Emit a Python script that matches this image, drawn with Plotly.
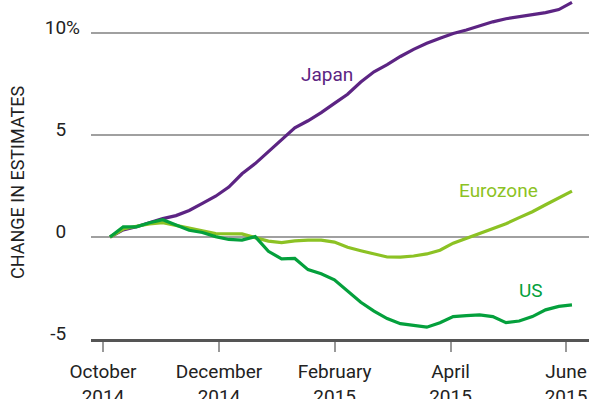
import plotly.graph_objects as go

# Weekly observations, Oct 2014 - Jun 2015 (week index)
weeks = list(range(36))

japan = [0, 0.35, 0.5, 0.7, 0.9, 1.05, 1.3, 1.65, 2.0, 2.45,
         3.1, 3.6, 4.2, 4.8, 5.35, 5.7, 6.1, 6.55, 7.0, 7.6,
         8.1, 8.45, 8.85, 9.2, 9.5, 9.75, 9.98, 10.15, 10.35, 10.55,
         10.7, 10.8, 10.9, 11.0, 11.15, 11.5]

eurozone = [0, 0.39, 0.53, 0.64, 0.7, 0.56, 0.4, 0.3, 0.17, 0.15,
            0.15, -0.03, -0.2, -0.27, -0.19, -0.15, -0.15, -0.25, -0.5, -0.67,
            -0.84, -0.98, -0.99, -0.93, -0.83, -0.65, -0.3, -0.07, 0.15, 0.4,
            0.65, 0.95, 1.24, 1.58, 1.9, 2.25]

us = [0, 0.5, 0.5, 0.7, 0.85, 0.58, 0.33, 0.22, 0.02, -0.12,
      -0.15, 0.02, -0.7, -1.07, -1.05, -1.6, -1.8, -2.1, -2.65, -3.2,
      -3.63, -4.0, -4.25, -4.32, -4.42, -4.2, -3.9, -3.85, -3.82, -3.9,
      -4.2, -4.12, -3.9, -3.57, -3.4, -3.33]

x_tick_pos = [-0.53, 8.26, 17.02, 25.8, 34.55]
x_tick_text = ["October<br>2014", "December<br>2014", "February<br>2015",
               "April<br>2015", "June<br>2015"]
y_tick_vals = [-5, 0, 5, 10]
y_tick_text = ["-5", "0", "5", "10%"]
y_title = "CHANGE IN ESTIMATES"

C_JAPAN = "#5c2483"
C_EURO = "#8cc224"
C_US = "#04a03c"
FONT = "Roboto"

hid = "<span style='color:rgba(0,0,0,0)'>%</span>"
y_ticks_disp = [t if t.endswith("%") else t + hid for t in y_tick_text]

fig = go.Figure()
for name, vals, col in [("Japan", japan, C_JAPAN), ("Eurozone", eurozone, C_EURO), ("US", us, C_US)]:
    fig.add_trace(go.Scatter(x=weeks, y=vals, mode="lines", name=name,
                             line=dict(color=col, width=3.2), hoverinfo="skip"))

labels = [("Japan", 16.44, 7.95, C_JAPAN), ("Eurozone", 29.47, 2.3, C_EURO), ("US", 31.9, -2.6, C_US)]
for txt, xx, yy, col in labels:
    fig.add_annotation(x=xx, y=yy, text=txt, showarrow=False,
                       font=dict(family=FONT, size=19, color=col))

# y-axis title
fig.add_annotation(xref="paper", yref="paper", x=-73 / 498, y=1 - 183 / 339,
                   text=y_title, textangle=-90, showarrow=False,
                   xanchor="center", yanchor="middle",
                   font=dict(family=FONT, size=18, color="#222222"))

fig.update_layout(
    width=589, height=399,
    margin=dict(l=91, r=0, t=0, b=60, autoexpand=False),
    plot_bgcolor="white", paper_bgcolor="white",
    showlegend=False,
    font=dict(family=FONT, size=19, color="#222222"),
    xaxis=dict(range=[-1.44, 36.29], tickmode="array", tickvals=x_tick_pos,
               ticktext=x_tick_text, showgrid=False, zeroline=False,
               showline=True, linecolor="#555555", linewidth=3,
               ticks="outside", ticklen=10, tickwidth=1.5, tickcolor="#999999",
               ticklabelstandoff=3, automargin=False,
               tickfont=dict(family=FONT, size=19, color="#222222")),
    yaxis=dict(range=[-5, 11.62], tickmode="array", tickvals=y_tick_vals,
               ticktext=y_ticks_disp, showgrid=True, gridcolor="#a0a0a0",
               gridwidth=1.5, zeroline=False, showline=False, ticks="",
               ticklabelshift=-6, ticklabelstandoff=10, automargin=False,
               tickfont=dict(family=FONT, size=19, color="#222222")),
)

fig.write_html("out.html")
